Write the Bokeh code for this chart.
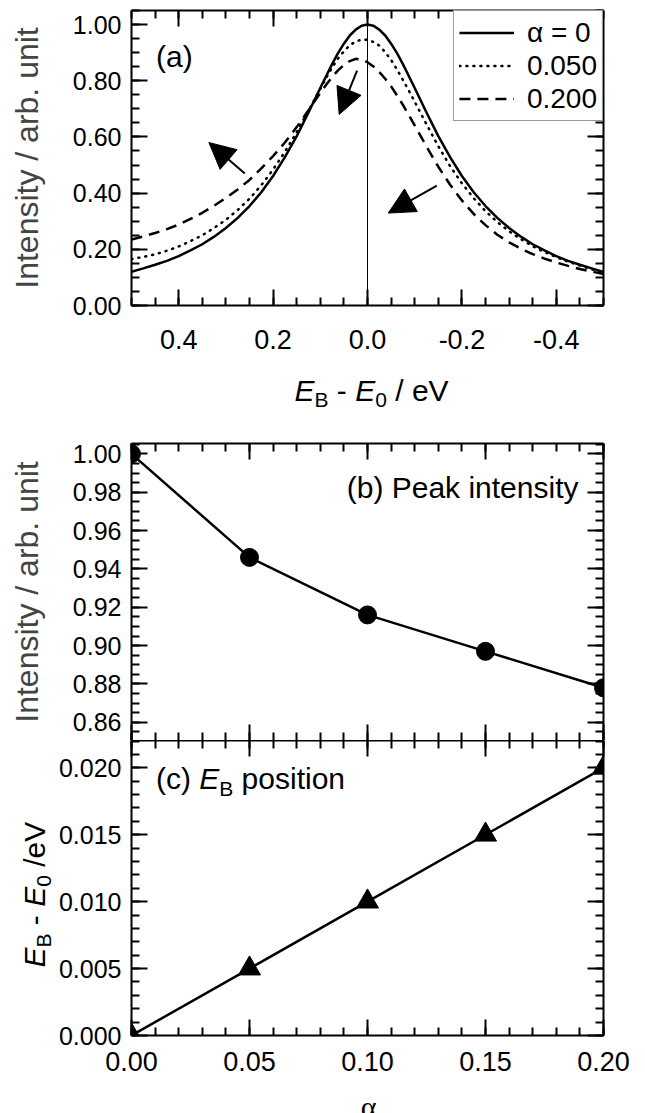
import math
from bokeh.plotting import figure
from bokeh.models import (Range1d, LinearAxis, FixedTicker, NumeralTickFormatter,
                          CustomJSTickFormatter, Label, Arrow, NormalHead, Span,
                          Legend, LegendItem)
from bokeh.layouts import column, row
from bokeh.embed import file_html
from bokeh.resources import INLINE

FONT = "Liberation Sans"

# ---------------- data ----------------
# panel (a): spectra vs E_B - E_0 (eV)
energy = [0.5, 0.475, 0.45, 0.425, 0.4, 0.375, 0.35, 0.325, 0.3, 0.275, 0.25, 0.225,
          0.2, 0.175, 0.15, 0.125, 0.1,
          0.0875, 0.075, 0.0625, 0.05, 0.0375, 0.025, 0.0125, 0.0, -0.0125, -0.025,
          -0.0375, -0.05, -0.0625, -0.075, -0.0875,
          -0.1, -0.125, -0.15, -0.175, -0.2, -0.225, -0.25, -0.275, -0.3, -0.325,
          -0.35, -0.375, -0.4, -0.425, -0.45, -0.475, -0.5]
intensity_alpha0 = [0.120, 0.132, 0.145, 0.159, 0.176, 0.196, 0.218, 0.245, 0.276, 0.312,
                    0.354, 0.403, 0.461, 0.528, 0.603, 0.687, 0.774,
                    0.817, 0.859, 0.898, 0.932, 0.961, 0.982, 0.996, 1.000, 0.996, 0.982,
                    0.961, 0.932, 0.898, 0.859, 0.817,
                    0.774, 0.687, 0.603, 0.528, 0.461, 0.403, 0.354, 0.312, 0.276, 0.245,
                    0.218, 0.196, 0.176, 0.159, 0.145, 0.132, 0.119]
intensity_alpha005 = [0.165, 0.173, 0.182, 0.195, 0.210, 0.229, 0.250, 0.276, 0.305, 0.340,
                      0.380, 0.428, 0.484, 0.547, 0.617, 0.694, 0.771,
                      0.810, 0.847, 0.879, 0.905, 0.926, 0.940, 0.946, 0.946, 0.938, 0.925,
                      0.902, 0.874, 0.840, 0.803, 0.765,
                      0.725, 0.645, 0.567, 0.496, 0.435, 0.382, 0.336, 0.297, 0.264, 0.236,
                      0.211, 0.190, 0.172, 0.156, 0.142, 0.129, 0.117]
intensity_alpha02 = [0.235, 0.246, 0.258, 0.272, 0.288, 0.308, 0.330, 0.355, 0.383, 0.413,
                     0.447, 0.488, 0.532, 0.580, 0.635, 0.695, 0.757,
                     0.786, 0.813, 0.837, 0.856, 0.870, 0.878, 0.875, 0.866, 0.851, 0.831,
                     0.807, 0.780, 0.748, 0.714, 0.678,
                     0.641, 0.566, 0.494, 0.430, 0.374, 0.326, 0.286, 0.252, 0.225, 0.202,
                     0.183, 0.167, 0.153, 0.141, 0.130, 0.121, 0.112]
legend_labels = ["α = 0", "0.050", "0.200"]

# panels (b), (c)
alpha = [0.00, 0.05, 0.10, 0.15, 0.20]
peak_intensity = [1.000, 0.946, 0.916, 0.897, 0.878]
peak_position = [0.000, 0.005, 0.010, 0.015, 0.020]

# ticks
a_xticks = [0.4, 0.2, 0.0, -0.2, -0.4]
a_xminor = [round(-0.5 + 0.05 * i, 2) for i in range(21)]
a_yticks = [0.0, 0.2, 0.4, 0.6, 0.8, 1.0]
a_yminor = [round(0.05 * i, 2) for i in range(22)]
bc_xticks = [0.00, 0.05, 0.10, 0.15, 0.20]
bc_xminor = [round(0.01 * i, 2) for i in range(21)]
b_yticks = [0.86, 0.88, 0.90, 0.92, 0.94, 0.96, 0.98, 1.00]
b_yminor = [round(0.85 + 0.005 * i, 3) for i in range(32)]
c_yticks = [0.000, 0.005, 0.010, 0.015, 0.020]
c_yminor = [round(0.001 * i, 3) for i in range(23)]

# arrows in panel (a)
arrow_x0 = [0.260, 0.022, -0.147]
arrow_y0 = [0.470, 0.836, 0.427]
arrow_x1 = [0.336, 0.060, -0.044]
arrow_y1 = [0.580, 0.680, 0.329]

# ---------------- helpers ----------------
CW = {'E': .667, 'B': .667, '0': .556, ' ': .278, '-': .333, '/': .278, 'e': .556,
      'V': .667, 'p': .556, 'o': .556, 's': .5, 'i': .222, 't': .278, 'n': .556,
      '(': .333, ')': .333, 'c': .5}


def tw(s, size):
    return sum(CW.get(ch, 0.556) for ch in s) * size


def make_fig(xr, yr, fh, left, top, bottom):
    p = figure(title=None, frame_width=472, frame_height=fh, x_range=xr, y_range=yr,
               min_border_left=left, min_border_right=42, min_border_top=top,
               min_border_bottom=bottom, x_axis_location=None, y_axis_location=None,
               output_backend="svg", toolbar_location=None,
               background_fill_color="white", border_fill_color="white")
    p.outline_line_color = None
    p.grid.visible = False
    return p


def text_fig(fw, fh, left, right, x0, x1, y0, y1):
    # blank strip used only to hold text; data units equal page pixels
    p = figure(title=None, frame_width=fw, frame_height=fh, x_range=Range1d(x0, x1),
               y_range=Range1d(y1, y0), min_border=0, min_border_left=left,
               min_border_right=right, min_border_top=0, min_border_bottom=0,
               x_axis_location=None, y_axis_location=None, output_backend="svg",
               toolbar_location=None, background_fill_color="white",
               border_fill_color="white")
    p.outline_line_color = None
    p.grid.visible = False
    return p


EMPTY = "return ''"


def make_axis(ticks, minor, fmt=None, size=25, standoff=10, line=True):
    ax = LinearAxis(ticker=FixedTicker(ticks=ticks, minor_ticks=minor))
    ax.major_tick_in = 16
    ax.major_tick_out = 0
    ax.minor_tick_in = 8
    ax.minor_tick_out = 0
    ax.axis_line_width = 2
    ax.axis_line_color = "black" if line else None
    ax.major_tick_line_width = 2
    ax.minor_tick_line_width = 2
    ax.major_tick_line_color = "black"
    ax.minor_tick_line_color = "black"
    if fmt is not None:
        ax.formatter = NumeralTickFormatter(format=fmt)
        ax.major_label_text_font = FONT
        ax.major_label_text_font_size = f"{size}px"
        ax.major_label_text_color = "black"
        ax.major_label_standoff = standoff
    else:
        ax.formatter = CustomJSTickFormatter(code=EMPTY)
        ax.major_label_text_font_size = "1px"
        ax.major_label_standoff = 0
    return ax


def composite(p, x, y, pieces, angle=0.0):
    off = 0.0
    for txt, size, style, drop, gap in pieces:
        off += gap
        if angle == 0:
            lab = Label(x=x, y=y, x_offset=off, y_offset=-drop, text=txt)
        else:
            lab = Label(x=x, y=y, x_offset=drop, y_offset=off, text=txt, angle=angle)
        lab.text_font = FONT
        lab.text_font_size = f"{size}px"
        lab.text_font_style = style
        lab.text_align = "left"
        lab.text_baseline = "alphabetic"
        lab.text_color = "black"
        p.add_layout(lab)
        off += tw(txt, size)


BIG = 30
SUB = 21
SP = 0.278 * BIG

# page rows: pa 0..368, ta 368..410, pb 410..740, row(tc, pc) 740..1090, tb 1090..1113
PA_BOTTOM = 63
PC_BOTTOM = 55

# ---------------- panel (a) ----------------
pa = make_fig(Range1d(0.5, -0.5), Range1d(0.0, 1.05), 295, 131, 10, PA_BOTTOM)
ax_l = make_axis(a_yticks, a_yminor, "0.00", 25, 10)
ax_l.axis_label = "Intensity / arb. unit"
ax_l.axis_label_text_font = FONT
ax_l.axis_label_text_font_size = "32px"
ax_l.axis_label_text_font_style = "normal"
ax_l.axis_label_standoff = 25
pa.add_layout(ax_l, "left")
pa.add_layout(make_axis(a_yticks, a_yminor), "right")
pa.add_layout(make_axis(a_xticks, a_xminor, "0.0", 27, 24), "below")
pa.add_layout(make_axis(a_xticks, a_xminor), "above")

pa.add_layout(Span(location=0.0, dimension="height", line_color="black", line_width=1))

r0 = pa.line(energy, intensity_alpha0, line_color="black", line_width=2.5)
r1 = pa.line(energy, intensity_alpha005, line_color="black", line_width=2.5,
             line_dash="1 6", line_cap="round")
r2 = pa.line(energy, intensity_alpha02, line_color="black", line_width=2.5,
             line_dash="11 7")

for xs, ys, xe, ye in zip(arrow_x0, arrow_y0, arrow_x1, arrow_y1):
    pa.add_layout(Arrow(end=NormalHead(size=26, fill_color="black", line_color="black",
                                       line_width=1),
                        x_start=xs, y_start=ys, x_end=xe, y_end=ye,
                        line_color="black", line_width=2))

legend = Legend(items=[LegendItem(label=legend_labels[0], renderers=[r0]),
                       LegendItem(label=legend_labels[1], renderers=[r1]),
                       LegendItem(label=legend_labels[2], renderers=[r2])],
                location="top_right")
legend.margin = 0
legend.padding = 5
legend.spacing = 0
legend.glyph_width = 55
legend.glyph_height = 33
legend.label_height = 33
legend.label_standoff = 13
legend.label_text_font = FONT
legend.label_text_font_size = "28px"
legend.label_text_color = "black"
legend.border_line_color = "#333333"
legend.border_line_width = 1
legend.background_fill_color = "white"
legend.background_fill_alpha = 1.0
pa.add_layout(legend)

pa.add_layout(Label(x=0.448, y=0.888, text="(a)", text_font=FONT,
                    text_font_size=f"{BIG}px", text_align="left",
                    text_baseline="alphabetic", text_color="black"))

# x title strip for (a)
TA_TOP = 10 + 295 + PA_BOTTOM
ta = text_fig(472, 410 - TA_TOP, 131, 42, 131, 603, TA_TOP, 410)
composite(ta, 294, 390, [
    ("E", BIG, "italic", 0, 0), ("B", SUB, "normal", 9, 0),
    ("-", BIG, "normal", 0, SP), ("E", BIG, "italic", 0, SP),
    ("0", SUB, "normal", 9, 0), ("/ eV", BIG, "normal", 0, SP)])

# ---------------- panel (b) ----------------
pb = make_fig(Range1d(0.0, 0.2), Range1d(0.8505, 1.0054), 297, 131, 33, 0)
bx_l = make_axis(b_yticks, b_yminor, "0.00", 25, 10)
bx_l.axis_label = "Intensity / arb. unit"
bx_l.axis_label_text_font = FONT
bx_l.axis_label_text_font_size = "32px"
bx_l.axis_label_text_font_style = "normal"
bx_l.axis_label_standoff = 25
pb.add_layout(bx_l, "left")
pb.add_layout(make_axis(b_yticks, b_yminor), "right")
pb.add_layout(make_axis(bc_xticks, bc_xminor), "above")
pb.add_layout(make_axis(bc_xticks, bc_xminor, line=False), "below")
pb.line(alpha, peak_intensity, line_color="black", line_width=2.5)
pb.scatter(alpha, peak_intensity, marker="circle", size=18, fill_color="black",
           line_color="black")
pb.add_layout(Label(x=0.1894, y=0.9823, text="(b) Peak intensity", text_font=FONT,
                    text_font_size=f"{BIG}px", text_align="right",
                    text_baseline="alphabetic", text_color="black"))

# ---------------- panel (c) ----------------
TCW = 55
pc = make_fig(Range1d(0.0, 0.2), Range1d(0.0, 0.02204), 295, 131 - TCW, 0, PC_BOTTOM)
pc.add_layout(make_axis(c_yticks, c_yminor, "0.000", 25, 10), "left")
pc.add_layout(make_axis(c_yticks, c_yminor), "right")
pc.add_layout(make_axis(bc_xticks, bc_xminor), "above")
pc.add_layout(make_axis(bc_xticks, bc_xminor, "0.00", 27, 16), "below")
pc.line(alpha, peak_position, line_color="black", line_width=2.5)
pc.scatter(alpha, peak_position, marker="triangle", size=22, fill_color="black",
           line_color="black")

composite(pc, 0.01035, 0.01918, [
    ("(c)", BIG, "normal", 0, 0), ("E", BIG, "italic", 0, SP),
    ("B", SUB, "normal", 10, 0), ("position", BIG, "normal", 0, SP)])

# y title strip for (c)
PC_END = 740 + 295 + PC_BOTTOM
tc = text_fig(TCW, PC_END - 740, 0, 0, 0, TCW, 740, PC_END)
composite(tc, 34, 967, [
    ("E", BIG, "italic", 0, 0), ("B", SUB, "normal", 9, 0),
    ("-", BIG, "normal", 0, SP), ("E", BIG, "italic", 0, SP),
    ("0", SUB, "normal", 9, 0), ("/eV", BIG, "normal", 0, SP)], angle=math.pi / 2)

# x title strip for (b)/(c)
tb = text_fig(472, 1113 - PC_END, 131, 42, 131, 603, PC_END, 1113)
tb.add_layout(Label(x=368, y=1106, text="α", text_font="Liberation Serif",
                    text_font_size="30px", text_align="center",
                    text_baseline="alphabetic", text_color="black"))

layout = column(pa, ta, pb, row(tc, pc, spacing=0), tb, spacing=0)
open("out.html", "w").write(file_html(layout, INLINE))
